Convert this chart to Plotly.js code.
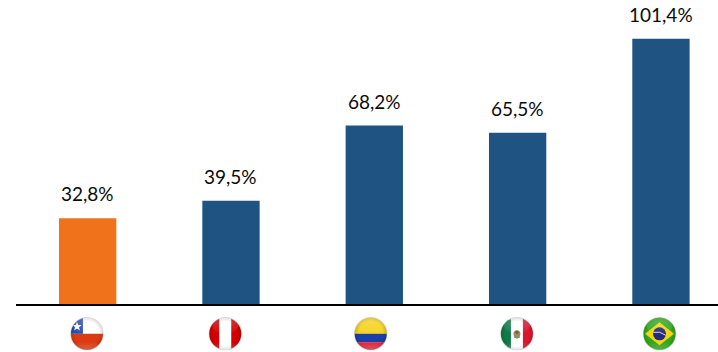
<!DOCTYPE html>
<html>
<head>
<meta charset="utf-8">
<script src="https://cdn.plot.ly/plotly-3.0.1.min.js"></script>
<style>html,body{margin:0;padding:0;background:#fff;overflow:hidden}#chart{width:718px;height:352px}</style>
</head>
<body>
<div id="chart"></div>
<script>
// Share per country, in percent
const countries = ["Chile", "Perú", "Colombia", "México", "Brasil"];
const values = [32.8, 39.5, 68.2, 65.5, 101.4];
const barColors = ["#F0731B", "#1F5482", "#1F5482", "#1F5482", "#1F5482"];
// Flag badges sit slightly off the bar centres
const flagX = [-0.005, -0.04, -0.025, -0.005, -0.01];

// Each badge is a round flag with a glossy overlay
function badge(inner) {
  const svg = `<svg xmlns="http://www.w3.org/2000/svg" width="68" height="68" viewBox="0 0 68 68">
<defs>
<clipPath id="c"><circle cx="34" cy="34" r="32"/></clipPath>
<radialGradient id="s" cx="50%" cy="50%" r="50%"><stop offset="72%" stop-color="#000" stop-opacity="0"/><stop offset="100%" stop-color="#000" stop-opacity="0.18"/></radialGradient>
<linearGradient id="g" x1="0" y1="0" x2="0" y2="1"><stop offset="0" stop-color="#fff" stop-opacity="0.22"/><stop offset="1" stop-color="#fff" stop-opacity="0.02"/></linearGradient>
<linearGradient id="b" x1="0" y1="0" x2="0" y2="1"><stop offset="0.5" stop-color="#fff" stop-opacity="0"/><stop offset="1" stop-color="#fff" stop-opacity="0.25"/></linearGradient>
</defs>
<circle cx="34" cy="34" r="33.5" fill="#d8d8d8"/>
<g clip-path="url(#c)">${inner}
<rect width="68" height="68" fill="url(#s)"/>
<rect x="0" y="34" width="68" height="34" fill="url(#b)"/>
<ellipse cx="34" cy="18" rx="26" ry="16" fill="url(#g)"/>
</g></svg>`;
  return "data:image/svg+xml;charset=utf-8," + encodeURIComponent(svg);
}

const flagArt = [
  // Chile
  `<rect width="68" height="34" fill="#fff"/><rect y="34" width="68" height="34" fill="#DC3A12"/><rect width="26" height="34" fill="#2A4FB0"/><path d="M15 13l2.6 6.2 6.6.4-5.1 4.2 1.7 6.4-5.8-3.6-5.6 3.6 1.6-6.4-5-4.2 6.6-.4z" fill="#fff" transform="translate(-1 -3)"/>`,
  // Peru
  `<rect width="68" height="68" fill="#fff"/><rect width="22" height="68" fill="#D40000"/><rect x="46" width="22" height="68" fill="#D40000"/>`,
  // Colombia
  `<rect width="68" height="34" fill="#F6D21E"/><rect y="34" width="68" height="17" fill="#1A3FA8"/><rect y="51" width="68" height="17" fill="#E0243A"/>`,
  // Mexico
  `<rect width="68" height="68" fill="#fff"/><rect width="22" height="68" fill="#0E7A48"/><rect x="46" width="22" height="68" fill="#D9162E"/><circle cx="34" cy="34" r="7" fill="#9C8A66"/><circle cx="34" cy="31" r="3.4" fill="#6E5B3C"/><path d="M28 40q6 4 12 0" stroke="#5E8B4E" stroke-width="2.4" fill="none"/>`,
  // Brazil
  `<rect width="68" height="68" fill="#2FA81E"/><path d="M34 11L63 34 34 57 5 34z" fill="#F4D312"/><circle cx="34" cy="34" r="13" fill="#25297E"/><path d="M21.5 31q13-3 25 6" stroke="#e8e8e8" stroke-width="1.8" fill="none"/>`
];

const flagImages = flagArt.map((art, i) => ({
  source: badge(art),
  xref: "x", yref: "paper",
  x: i + flagX[i], y: -0.098,
  sizex: 34 / 143.25, sizey: 34 / 304,
  xanchor: "center", yanchor: "middle",
  sizing: "contain", layer: "above"
}));

const labels = values.map((v, i) => ({
  x: i, y: v,
  text: v.toFixed(1).replace(".", ",") + "%",
  showarrow: false,
  xanchor: "center", yanchor: "bottom",
  yshift: 11,
  font: {family: "Lato, Carlito, sans-serif", size: 19, color: "#0a0a0a"}
}));

const trace = {
  type: "bar",
  x: countries.map((_, i) => i),
  y: values,
  width: 0.4,
  marker: {color: barColors, line: {width: 0}},
  hoverinfo: "skip",
  customdata: countries
};

const layout = {
  width: 718, height: 352,
  margin: {l: 16.4, r: 0, t: 0, b: 48},
  paper_bgcolor: "#fff", plot_bgcolor: "#fff",
  showlegend: false,
  xaxis: {range: [-0.5, 4.398], showgrid: false, zeroline: false, ticks: "", showticklabels: false,
          showline: true, linecolor: "#000", linewidth: 2},
  yaxis: {range: [0, 116.2], visible: false, showgrid: false, zeroline: false},
  annotations: labels,
  images: flagImages
};

Plotly.newPlot("chart", [trace], layout, {displayModeBar: false, staticPlot: true});
</script>
</body>
</html>
